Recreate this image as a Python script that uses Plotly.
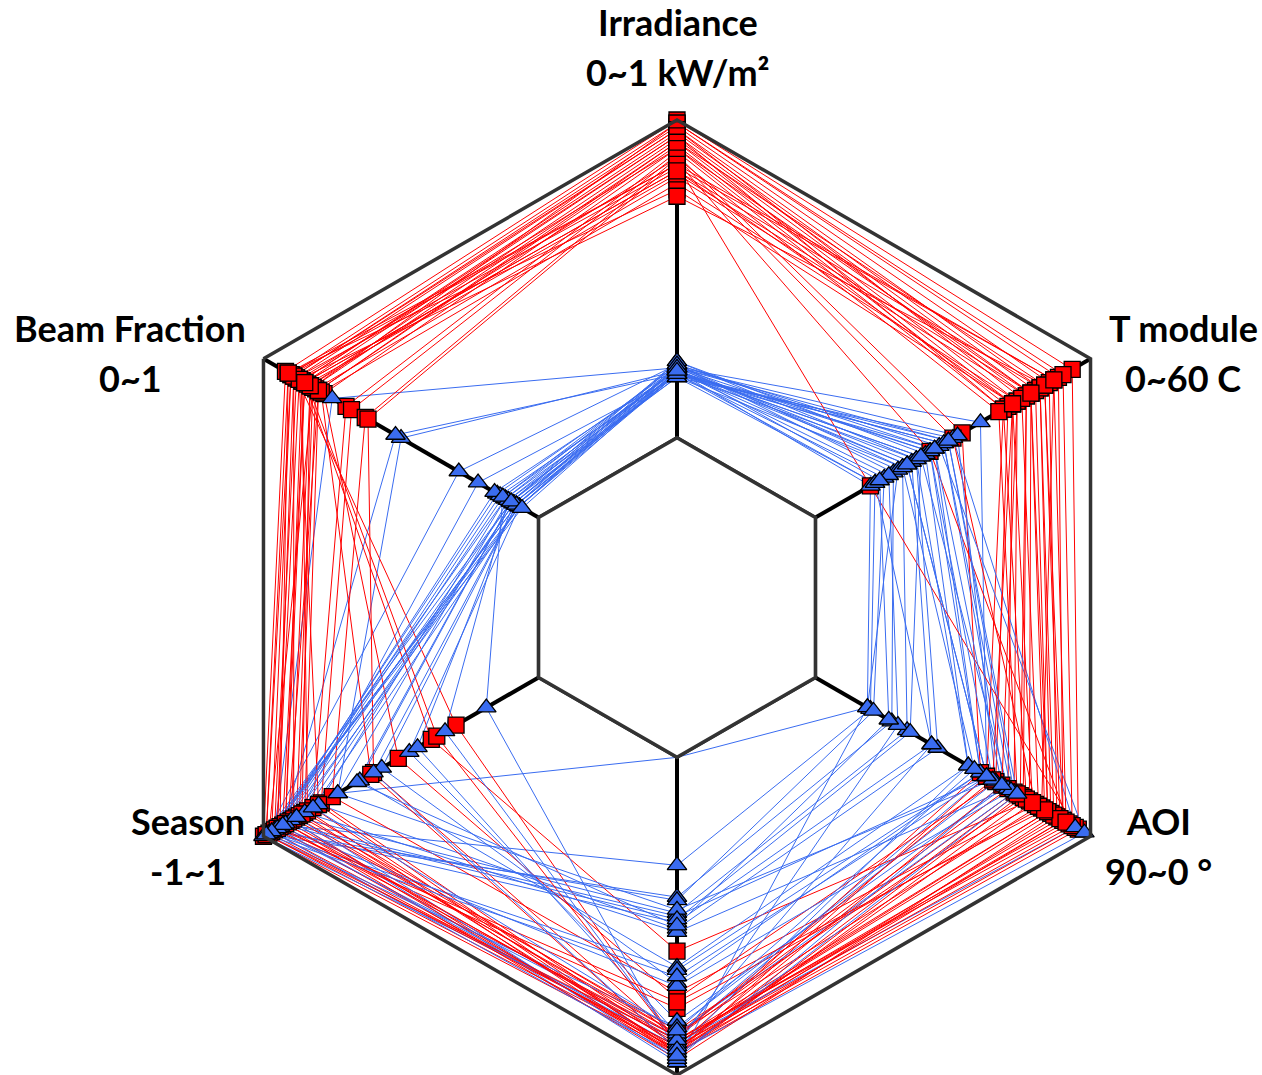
import plotly.graph_objects as go

# Axis order around the hexagon, clockwise from the top
axes = ["Irradiance", "T module", "AOI", "Air Mass", "Season", "Beam Fraction"]

# ---- Red group (high irradiance days) ----
irr_red = [1.00, 0.99, 0.98, 0.97, 0.96, 0.95, 0.94, 0.93, 0.92, 0.91, 0.90, 0.89, 0.88, 0.87, 0.86,
           0.85, 0.84, 0.83, 0.82, 0.80, 0.78, 0.76, 0.99, 0.97, 0.95, 0.93, 0.91, 0.88, 0.86, 0.84]      # kW/m2
tmod_red = [56, 53, 51, 49, 48, 47, 46, 44, 43, 42, 41, 32, 30, 25, 12,
            52, 49, 47, 46, 44, 43, 50, 54, 45, 41, 50, 47, 40, 52, 43]                                  # C
aoi_red = [4, 9, 11, 13, 14, 20, 23, 25, 27, 31, 34, 36, 18, 7, 5,
           16, 12, 14, 22, 29, 32, 9, 6, 17, 21, 10, 15, 24, 8, 19]                                      # deg
air_red = [0.93, 0.91, 0.92, 0.90, 0.89, 0.61, 0.94, 0.88, 0.87, 0.76, 0.93, 0.91, 0.74, 0.89, 0.92,
           0.79, 0.95, 0.90, 0.86, 0.92, 0.88, 0.93, 0.91, 0.87, 0.94, 0.90, 0.77, 0.92, 0.89, 0.93]
season_red = [1.00, 0.94, 0.90, -0.40, 0.84, -0.22, 0.80, 0.76, 0.70, 0.02, 0.64, 0.58, 0.50, 0.20, 0.98,
              0.92, 0.86, -0.26, 0.74, 0.22, 0.88, 0.60, 0.96, 0.78, 0.68, 0.82, 0.90, 0.72, 0.98, 0.84]
beam_red = [0.92, 0.90, 0.89, 0.88, 0.86, 0.85, 0.83, 0.82, 0.80, 0.78, 0.70, 0.68, 0.63, 0.62, 0.90,
            0.88, 0.85, 0.84, 0.81, 0.79, 0.91, 0.87, 0.82, 0.89, 0.86, 0.80, 0.87, 0.83, 0.91, 0.85]

# ---- Blue group (low irradiance days) ----
irr_blue = [0.22, 0.21, 0.20, 0.23, 0.19, 0.22, 0.20, 0.24, 0.21, 0.20, 0.22, 0.19, 0.23, 0.21, 0.20,
            0.22, 0.21, 0.23, 0.20, 0.22, 0.21, 0.19, 0.24, 0.22, 0.20, 0.21, 0.23, 0.20, 0.22, 0.21]
tmod_blue = [36, 12, 13, 17, 19, 21, 22, 24, 25, 28, 29, 30, 27, 18, 15,
             20, 23, 26, 28, 31, 16, 13, 22, 25, 26, 23, 19, 29, 14, 20]
aoi_blue = [34, 73, 72, 65, 60, 52, 50, 40, 36, 28, 25, 5, 2, 73, 71,
            34, 27, 36, 26, 31, 63, 52, 40, 32, 29, 59, 38, 24, 66, 34]
air_blue = [0.88, 0.00, 0.34, 0.44, 0.49, 0.52, 0.54, 0.66, 0.71, 0.83, 0.87, 0.90, 0.93, 0.96, 0.45,
            0.50, 0.55, 0.67, 0.72, 0.85, 0.91, 0.89, 0.92, 0.48, 0.95, 0.51, 0.86, 0.94, 0.53, 0.69]
season_blue = [0.92, 0.46, 0.86, 0.98, 0.76, 0.92, 0.60, 0.30, 0.14, -0.06, -0.12, -0.32, -0.62, 0.80, 0.94,
               0.84, 0.70, 0.96, 0.88, 0.98, 0.90, 1.00, 0.20, 0.46, 0.76, 0.86, 0.64, 0.94, 0.32, 0.98]
beam_blue = [0.75, 0.50, 0.52, 0.29, 0.22, 0.15, 0.12, 0.10, 0.08, 0.07, 0.09, 0.11, 0.13, 0.07, 0.08,
             0.10, 0.09, 0.12, 0.14, 0.07, 0.16, 0.10, 0.08, 0.11, 0.09, 0.13, 0.07, 0.08, 0.10, 0.06]

# Axis label text (name, range)
labels = [("Irradiance", "0~1 kW/m²"), ("T module", "0~60 C"), ("AOI", "90~0 °"),
          ("Season", "-1~1"), ("Beam Fraction", "0~1")]


def normalise(irr, tmod, aoi, air, season, beam):
    """Scale each variable onto 0..1 along its spoke."""
    rows = []
    for i in range(len(irr)):
        rows.append([irr[i] / 1.0,
                     tmod[i] / 60.0,
                     (90.0 - aoi[i]) / 90.0,
                     air[i],
                     (season[i] + 1.0) / 2.0,
                     beam[i]])
    return rows


red_rows = normalise(irr_red, tmod_red, aoi_red, air_red, season_red, beam_red)
blue_rows = normalise(irr_blue, tmod_blue, aoi_blue, air_blue, season_blue, beam_blue)

RED = "#ff0000"
BLUE = "#3a6cf0"

fig = go.Figure()

# One closed polyline per sample, red and blue interleaved
theta_closed = axes + [axes[0]]
n = max(len(red_rows), len(blue_rows))
for i in range(n):
    for rows, col in ((red_rows, RED), (blue_rows, BLUE)):
        if i < len(rows):
            r = rows[i] + [rows[i][0]]
            fig.add_trace(go.Scatterpolar(r=r, theta=theta_closed, mode="lines",
                                          line=dict(color=col, width=1.0),
                                          hoverinfo="skip", showlegend=False))

# Inner hexagon (zero of every spoke)
fig.add_trace(go.Scatterpolar(r=[0] * 7, theta=theta_closed, mode="lines",
                              line=dict(color="#333333", width=3.5),
                              hoverinfo="skip", showlegend=False))

# Markers on the spokes
for rows, col, sym, size in ((red_rows, RED, "square", 16), (blue_rows, BLUE, "triangle-up", 17)):
    rr, tt = [], []
    for row in rows:
        rr.extend(row)
        tt.extend(axes)
    fig.add_trace(go.Scatterpolar(r=rr, theta=tt, mode="markers",
                                  marker=dict(symbol=sym, size=size, color=col,
                                              line=dict(color="black", width=1.3)),
                                  cliponaxis=False, showlegend=False))

W, H = 1262, 1075
cx, cy, R = 677, 598, 478

fig.update_layout(
    width=W, height=H,
    margin=dict(l=0, r=0, t=0, b=0),
    paper_bgcolor="white",
    showlegend=False,
    polar=dict(
        domain=dict(x=[(cx - R) / W, (cx + R) / W], y=[0, (H - cy + R) / H]),
        hole=160 / 478,
        gridshape="linear",
        bgcolor="white",
        angularaxis=dict(type="category", categoryarray=axes, rotation=90, direction="clockwise",
                         showline=True, linecolor="#333333", linewidth=3.5,
                         showgrid=True, gridcolor="black", gridwidth=4,
                         showticklabels=False, ticks=""),
        radialaxis=dict(range=[0, 1], showline=False, showticklabels=False,
                        ticks="", showgrid=False),
    ),
)

# Two-line axis captions
label_pos = [(678, 22, 72), (1183, 328, 378), (1158, 821, 871), (188, 821, 871), (130, 328, 378)]
font = dict(family="Lato, 'Open Sans', sans-serif", size=36, color="black")
for (name, rng), (x, y1, y2) in zip(labels, label_pos):
    fig.add_annotation(x=x / W, y=1 - y1 / H, xref="paper", yref="paper", text=f"<b>{name}</b>",
                       showarrow=False, font=font, xanchor="center", yanchor="middle")
    fig.add_annotation(x=x / W, y=1 - y2 / H, xref="paper", yref="paper", text=f"<b>{rng}</b>",
                       showarrow=False, font=font, xanchor="center", yanchor="middle")

fig.write_html("out.html")
